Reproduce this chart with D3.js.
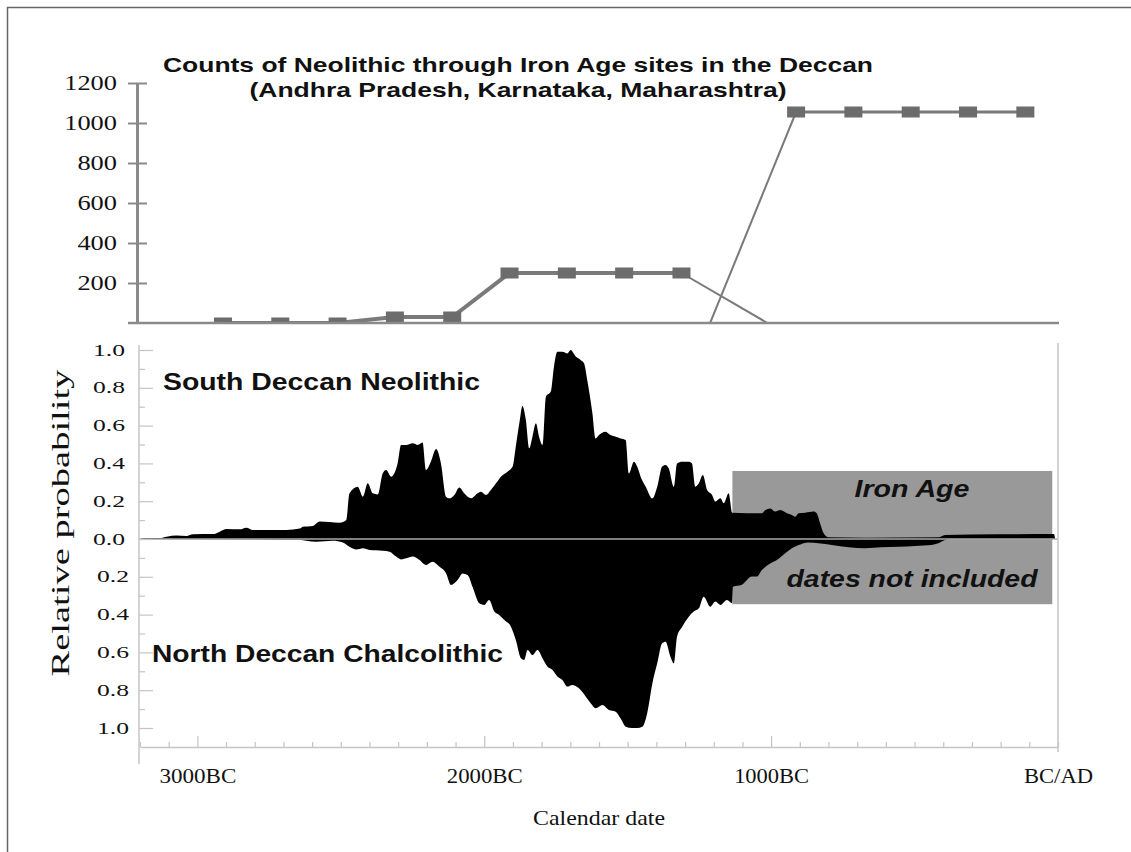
<!DOCTYPE html>
<html>
<head>
<meta charset="utf-8">
<script src="https://cdnjs.cloudflare.com/ajax/libs/d3/7.8.5/d3.min.js"></script>
<style>
body{margin:0;background:#fff;}
svg{display:block;}
</style>
</head>
<body>
<svg id="chart" width="1131" height="852"></svg>
<script>
// site counts per 200-year bin (bin mid years)
var neoYears = [-2900, -2700, -2500, -2300, -2100, -1900, -1700, -1500, -1300];
var neoCounts = [0, 0, 0, 30, 30, 250, 250, 250, 250];
var neoTail = [[-1300, 250], [-1000, 0]];
var ironYears = [-900, -700, -500, -300, -100];
var ironCounts = [1055, 1055, 1055, 1055, 1055];
var ironLead = [[-1200, 0], [-900, 1055]];
var countTicks = [200, 400, 600, 800, 1000, 1200];

// summed probability, South Deccan Neolithic (upwards)
var southYears = [-3200,-3177,-3130,-3107,-3072,-3038,-3015,-2945,-2922,-2898,-2852,-2829,-2806,-2690,-2643,-2632,-2597,-2574,-2504,-2481,
  -2470,-2441,-2423,-2406,-2389,-2371,-2354,-2342,-2325,-2302,-2290,-2272,-2249,-2232,-2215,-2203,-2186,-2168,-2151,-2133,
  -2122,-2104,-2087,-2070,-2046,-2023,-2012,-1994,-1977,-1959,-1942,-1919,-1901,-1890,-1876,-1867,-1855,-1843,-1832,-1820,
  -1809,-1797,-1785,-1768,-1757,-1745,-1728,-1710,-1699,-1681,-1664,-1652,-1641,-1623,-1612,-1600,-1577,-1560,-1542,-1525,
  -1507,-1496,-1478,-1467,-1455,-1437,-1414,-1397,-1380,-1368,-1357,-1339,-1328,-1310,-1287,-1276,-1264,-1252,-1238,-1223,
  -1206,-1194,-1177,-1165,-1148,-1136,-1032,-1020,-1003,-986,-968,-945,-928,-916,-904,-881,-852,-841,-829,-817,
  -800,-672,-417,-394,-209,-14,-10];
var southProb = [0,0.005,0.005,0.012,0.018,0.016,0.025,0.026,0.039,0.053,0.051,0.060,0.048,0.048,0.055,0.065,0.069,0.092,0.086,0.100,
  0.241,0.277,0.224,0.295,0.242,0.236,0.347,0.365,0.330,0.400,0.497,0.497,0.506,0.497,0.510,0.365,0.409,0.476,0.400,0.224,
  0.215,0.233,0.272,0.242,0.215,0.242,0.250,0.233,0.259,0.295,0.330,0.356,0.383,0.490,0.630,0.704,0.630,0.480,0.541,0.612,
  0.541,0.497,0.753,0.780,0.912,0.991,0.991,0.982,1.0,0.965,0.947,0.929,0.841,0.665,0.532,0.550,0.568,0.550,0.541,0.532,
  0.524,0.347,0.409,0.383,0.330,0.277,0.215,0.277,0.383,0.392,0.374,0.277,0.400,0.409,0.409,0.400,0.277,0.295,0.339,0.259,
  0.233,0.198,0.215,0.189,0.242,0.139,0.136,0.153,0.162,0.145,0.153,0.136,0.127,0.118,0.136,0.139,0.145,0.136,0.082,0.030,
  0.009,0.007,0.009,0.021,0.025,0.026,0];

// summed probability, North Deccan Chalcolithic (downwards)
var northYears = [-3200,-2643,-2620,-2585,-2528,-2493,-2470,-2446,-2423,-2400,-2354,-2330,-2307,-2290,-2272,-2249,-2226,-2203,-2180,-2157,
  -2133,-2116,-2093,-2075,-2058,-2041,-2017,-2000,-1983,-1965,-1948,-1930,-1907,-1890,-1872,-1861,-1849,-1832,-1814,-1797,
  -1780,-1762,-1745,-1728,-1710,-1693,-1670,-1646,-1629,-1612,-1588,-1565,-1542,-1525,-1507,-1484,-1467,-1449,-1432,-1414,
  -1397,-1380,-1368,-1351,-1339,-1328,-1310,-1287,-1270,-1252,-1235,-1212,-1194,-1177,-1154,-1136,-1133,-1103,-1067,-1050,
  -1032,-1003,-980,-951,-928,-904,-870,-835,-788,-730,-672,-615,-557,-498,-441,-417,-394,-371];
var northProb = [0,0.004,0.009,0.014,0.009,0.019,0.041,0.056,0.049,0.058,0.062,0.067,0.093,0.108,0.102,0.093,0.111,0.137,0.120,0.146,
  0.182,0.243,0.217,0.182,0.190,0.252,0.340,0.349,0.323,0.384,0.402,0.429,0.464,0.534,0.631,0.640,0.587,0.614,0.587,0.631,
  0.675,0.693,0.728,0.746,0.781,0.772,0.790,0.834,0.869,0.896,0.878,0.905,0.914,0.949,0.993,1.0,1.0,0.993,0.922,0.764,
  0.658,0.552,0.543,0.623,0.658,0.517,0.464,0.411,0.384,0.367,0.305,0.358,0.331,0.349,0.323,0.340,0.252,0.243,0.199,0.199,
  0.164,0.129,0.111,0.076,0.049,0.032,0.018,0.023,0.032,0.044,0.049,0.044,0.041,0.037,0.032,0.023,0.005,0];

var probTicks = [0, 0.1, 0.2, 0.3, 0.4, 0.5, 0.6, 0.7, 0.8, 0.9, 1.0];
var dateTickYears = [-3000, -2000, -1000, 0];
var dateTickLabels = ["3000BC", "2000BC", "1000BC", "BC/AD"];
// Iron Age block: years and heights above / below zero
var ironBlock = {start: -1135, end: -20, up: 0.36, down: 0.345};

var SERIF = "'Liberation Serif','Times New Roman',serif";
var SANS = "'Liberation Sans',Arial,sans-serif";

var Chart = (function(){
	var svg = d3.select("#chart");

	var serifText = function(sel, size){
		sel.style("font-family", SERIF)
			.style("font-size", size + "px")
			.style("font-weight", "normal")
			.attr("fill", "#111")
			.attr("lengthAdjust", "spacingAndGlyphs");
	}

	var drawFrame = function(){
		// only the left and top edges fall inside the picture
		svg.append("rect")
			.attr("x", 7.5).attr("y", 7.5)
			.attr("width", 1300).attr("height", 1000)
			.attr("fill", "none")
			.attr("stroke", "#666")
			.attr("stroke-width", 1.5);
	}

	var drawCounts = function(){
		var xc = d3.scaleLinear().domain([-3200, 0]).range([137, 1054]);
		var yc = d3.scaleLinear().domain([0, 1200]).range([323, 83]);
		var g = svg.append("g");

		g.append("clipPath").attr("id", "clipCounts")
			.append("rect").attr("x", 100).attr("y", 60).attr("width", 1000).attr("height", 263);
		var plot = g.append("g").attr("clip-path", "url(#clipCounts)");

		var line = d3.line()
			.x(function(d){ return xc(d[0]); })
			.y(function(d){ return yc(d[1]); });

		var neo = d3.zip(neoYears, neoCounts);
		var iron = d3.zip(ironYears, ironCounts);

		plot.append("path").attr("d", line(neoTail))
			.attr("fill", "none").attr("stroke", "#7a7a7a").attr("stroke-width", 2);
		plot.append("path").attr("d", line(ironLead))
			.attr("fill", "none").attr("stroke", "#7a7a7a").attr("stroke-width", 2);
		plot.append("path").attr("d", line(neo))
			.attr("fill", "none").attr("stroke", "#7a7a7a").attr("stroke-width", 4);
		plot.append("path").attr("d", line(iron))
			.attr("fill", "none").attr("stroke", "#7a7a7a").attr("stroke-width", 3);

		plot.selectAll("rect.mk")
			.data(neo.concat(iron))
			.enter()
			.append("rect")
			.attr("class", "mk")
			.attr("x", function(d){ return xc(d[0]) - 9; })
			.attr("y", function(d){ return yc(d[1]) - 5.5; })
			.attr("width", 18)
			.attr("height", 11)
			.attr("fill", "#6c6c6c");

		g.append("line")
			.attr("x1", 128).attr("x2", 1059)
			.attr("y1", yc(0)).attr("y2", yc(0))
			.attr("stroke", "#8a8a8a").attr("stroke-width", 2.5);

		var axis = d3.axisLeft(yc).tickValues(countTicks).tickFormat(d3.format("d"))
			.tickSize(0).tickSizeOuter(0).tickPadding(20);
		var gAx = g.append("g").attr("transform", "translate(137,0)").call(axis);
		gAx.select(".domain").attr("stroke", "#8a8a8a").attr("stroke-width", 3);
		gAx.selectAll(".tick").append("line")
			.attr("x1", -9).attr("x2", 10)
			.attr("stroke", "#8a8a8a").attr("stroke-width", 2);
		gAx.selectAll(".tick text")
			.call(serifText, 21)
			.attr("textLength", function(d){ return String(d).length * 13.2; });

		var title = [
			{t: "Counts of Neolithic through Iron Age sites in the Deccan", y: 72, w: 710},
			{t: "(Andhra Pradesh, Karnataka, Maharashtra)", y: 97, w: 537}
		];
		g.selectAll("text.title")
			.data(title)
			.enter()
			.append("text")
			.attr("class", "title")
			.attr("x", 518)
			.attr("y", function(d){ return d.y; })
			.attr("text-anchor", "middle")
			.style("font-family", SANS)
			.style("font-weight", "bold")
			.style("font-size", "21px")
			.attr("fill", "#111")
			.attr("textLength", function(d){ return d.w; })
			.attr("lengthAdjust", "spacingAndGlyphs")
			.text(function(d){ return d.t; });
	}

	var drawProbability = function(){
		var x = d3.scaleLinear().domain([-3200, 0]).range([140, 1058]);
		var yUp = d3.scaleLinear().domain([0, 1]).range([539, 350]);
		var yDown = d3.scaleLinear().domain([0, 1]).range([539, 728]);
		var g = svg.append("g");
		var axisCol = "#c4c4c4";

		g.append("rect")
			.attr("x", x(ironBlock.start))
			.attr("y", yUp(ironBlock.up))
			.attr("width", x(ironBlock.end) - x(ironBlock.start))
			.attr("height", yDown(ironBlock.down) - yUp(ironBlock.up))
			.attr("fill", "#999");

		var areaUp = d3.area()
			.x(function(d){ return x(d[0]); })
			.y0(yUp(0))
			.y1(function(d){ return yUp(d[1]); })
			.curve(d3.curveMonotoneX);
		var areaDown = d3.area()
			.x(function(d){ return x(d[0]); })
			.y0(yDown(0))
			.y1(function(d){ return yDown(d[1]); })
			.curve(d3.curveMonotoneX);

		g.append("path").attr("d", areaUp(d3.zip(southYears, southProb))).attr("fill", "#000");
		g.append("path").attr("d", areaDown(d3.zip(northYears, northProb))).attr("fill", "#000");

		g.append("line")
			.attr("x1", 139).attr("x2", 1058)
			.attr("y1", yUp(0)).attr("y2", yUp(0))
			.attr("stroke", "#aaa").attr("stroke-width", 1.5);

		var isMinor = function(d){ return Math.round(d * 10) % 2 == 1; };
		var fmt = function(d){ return isMinor(d) ? "" : d3.format(".1f")(d); };

		var styleAxis = function(gAx){
			gAx.select(".domain").remove();
			gAx.selectAll(".tick line")
				.attr("stroke", axisCol).attr("stroke-width", 1.2)
				.attr("x2", function(d){ return isMinor(d) ? 6 : 14; });
			gAx.selectAll(".tick text")
				.call(serifText, 16)
				.attr("textLength", function(d){ return isMinor(d) ? null : 32; });
		}

		var axUp = d3.axisLeft(yUp).tickValues(probTicks).tickSize(-14).tickPadding(14).tickFormat(fmt);
		g.append("g").attr("transform", "translate(139,0)").call(axUp).call(styleAxis);
		var axDown = d3.axisLeft(yDown).tickValues(probTicks.slice(1)).tickSize(-14).tickPadding(10).tickFormat(fmt);
		g.append("g").attr("transform", "translate(139,0)").call(axDown).call(styleAxis);

		// left and right frame edges of the plot
		g.append("line").attr("x1", 139).attr("x2", 139).attr("y1", 345).attr("y2", 764)
			.attr("stroke", axisCol).attr("stroke-width", 1.5);
		g.append("line").attr("x1", 1058).attr("x2", 1058).attr("y1", 343).attr("y2", 752)
			.attr("stroke", axisCol).attr("stroke-width", 1.5);

		var axB = d3.axisBottom(x)
			.tickValues(d3.range(-3200, 1, 100))
			.tickSize(-5)
			.tickSizeOuter(0)
			.tickFormat(function(d){
				var i = dateTickYears.indexOf(d);
				return i < 0 ? "" : dateTickLabels[i];
			});
		var gB = g.append("g").attr("transform", "translate(0,747)").call(axB);
		gB.select(".domain").attr("stroke", axisCol).attr("stroke-width", 1.5);
		gB.selectAll(".tick line")
			.attr("stroke", axisCol).attr("stroke-width", 1.2)
			.attr("y2", function(d){ return dateTickYears.indexOf(d) < 0 || d == 0 ? -5 : -11; });
		var widths = [77, 76, 75, 69];
		gB.selectAll(".tick text")
			.attr("y", 36).attr("dy", 0)
			.call(serifText, 20)
			.attr("textLength", function(d){
				var i = dateTickYears.indexOf(d);
				return i < 0 ? null : widths[i];
			});

		g.append("text")
			.attr("x", 599).attr("y", 825)
			.attr("text-anchor", "middle")
			.call(serifText, 22)
			.attr("textLength", 132)
			.text("Calendar date");

		g.append("text")
			.attr("transform", "translate(69,523) rotate(-90)")
			.attr("text-anchor", "middle")
			.call(serifText, 26)
			.attr("textLength", 307)
			.text("Relative probability");

		var labels = [
			{t: "South Deccan Neolithic", x: 163, y: 390, w: 317, a: "start", it: false},
			{t: "North Deccan Chalcolithic", x: 152, y: 662, w: 351, a: "start", it: false},
			{t: "Iron Age", x: 912, y: 497, w: 115, a: "middle", it: true},
			{t: "dates not included", x: 912, y: 587, w: 251, a: "middle", it: true}
		];
		g.selectAll("text.lab")
			.data(labels)
			.enter()
			.append("text")
			.attr("class", "lab")
			.attr("x", function(d){ return d.x; })
			.attr("y", function(d){ return d.y; })
			.attr("text-anchor", function(d){ return d.a; })
			.style("font-family", SANS)
			.style("font-weight", "bold")
			.style("font-style", function(d){ return d.it ? "italic" : "normal"; })
			.style("font-size", "23px")
			.attr("fill", "#111")
			.attr("textLength", function(d){ return d.w; })
			.attr("lengthAdjust", "spacingAndGlyphs")
			.text(function(d){ return d.t; });
	}

	return {
		render: function(){
			drawFrame();
			drawCounts();
			drawProbability();
		}
	}
})();

Chart.render();
</script>
</body>
</html>
